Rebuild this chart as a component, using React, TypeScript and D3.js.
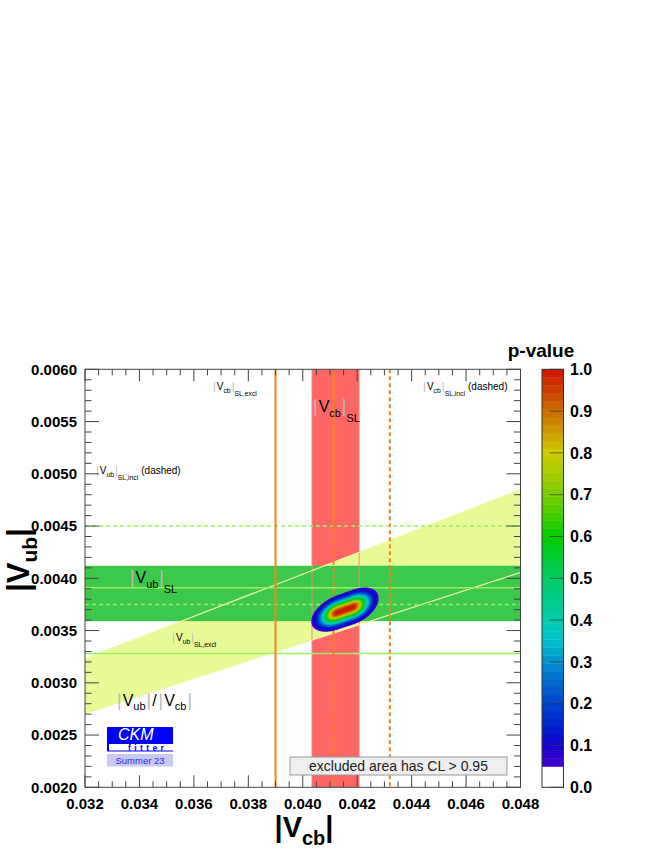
import * as d3 from 'd3';
import { useMemo } from 'react';

// axis ticks
const xTicks = [0.032, 0.034, 0.036, 0.038, 0.040, 0.042, 0.044, 0.046, 0.048];
const yTicks = [0.0020, 0.0025, 0.0030, 0.0035, 0.0040, 0.0045, 0.0050, 0.0055, 0.0060];
const pTicks = [0, 0.1, 0.2, 0.3, 0.4, 0.5, 0.6, 0.7, 0.8, 0.9, 1.0];

// constraint bands
const vcbSL = [0.04034, 0.04207];
const vubSL = [0.00359, 0.00412];
const ratioBand = [0.0845, 0.1010]; // |Vub|/|Vcb|

// single measurements (excl solid, incl dashed)
const vcbLines = [
  { v: 0.0390, from: 0.0020, to: 0.0060, dashed: false },
  { v: 0.04113, from: 0.0045, to: 0.0060, dashed: false },
  { v: 0.04113, from: 0.0020, to: 0.0045, dashed: true },
  { v: 0.0432, from: 0.0020, to: 0.0060, dashed: true },
];
const vubLines = [
  { v: 0.00328, dashed: false },
  { v: 0.00391, dashed: false },
  { v: 0.00375, dashed: true },
  { v: 0.00450, dashed: true },
];

// global fit (Rfit: centre, flat theory half-range, gaussian sigma)
const fitVcb = [0.04155, 0.00028, 0.00039];
const fitRatio = [0.0890, 0.00008, 0.0016];

// p-value palette
const pStops = [0.05, 0.1, 0.15, 0.2, 0.25, 0.3, 0.35, 0.4, 0.45, 0.5, 0.55, 0.6, 0.65, 0.7, 0.75, 0.8, 0.85, 0.9, 0.95, 1.0];
const pColors = ['#4400cc', '#1400cc', '#0022cc', '#0044cc', '#0068cc', '#0090cc', '#00c0cc', '#00ccb0', '#00cc88', '#00cc66',
  '#00cc33', '#00cc00', '#44cc00', '#77cc00', '#a4cc00', '#cccc00', '#cc9c00', '#cc6e00', '#cc4000', '#cc1500'];

const font = 'Liberation Sans, Arial, Helvetica, sans-serif';
const orange = '#f5821f';
const lightGreen = '#98f060';

function Label({ x, y, size, sub, sub2, suffix }: any) {
  const s = size * 0.68;
  return (
    <text x={x} y={y} fontFamily={font} fontSize={size} fill="#000">
      <tspan fill="#bbb" fontSize={size * 1.1}>|</tspan>
      <tspan dx={1}>V</tspan>
      <tspan fontSize={s} dy={size * 0.3}>{sub}</tspan>
      <tspan fill="#bbb" fontSize={size * 1.1} dy={-size * 0.3} dx={1}>|</tspan>
      {sub2 && <tspan fontSize={s} dy={size * 0.6}>{sub2}</tspan>}
      {suffix && <tspan dy={sub2 ? -size * 0.6 : 0} dx={3}>{suffix}</tspan>}
    </text>
  );
}

export default function App() {
  const x = d3.scaleLinear().domain([0.032, 0.048]).range([85, 520.5]);
  const y = d3.scaleLinear().domain([0.002, 0.006]).range([787.3, 369.3]);
  const pScale = d3.scaleLinear().domain([0, 1]).range([787.3, 369.3]);
  const palette = d3.scaleLinear<string>().domain(pStops).range(pColors).interpolate(d3.interpolateRgb).clamp(true);
  const levels = d3.range(50).map(k => 0.05 + k * 0.019);

  const blob = useMemo(() => {
    const nx = 280, ny = 220;
    const gx = [0.0398, 0.0438], gy = [0.0032, 0.0042];
    const values: number[] = [];
    for (let j = 0; j < ny; j++) {
      for (let i = 0; i < nx; i++) {
        const xv = gx[0] + (i + 0.5) * (gx[1] - gx[0]) / nx;
        const yv = gy[1] - (j + 0.5) * (gy[1] - gy[0]) / ny;
        const r = yv / xv;
        const a = Math.max(0, Math.abs(xv - fitVcb[0]) - fitVcb[1]) / fitVcb[2];
        const b = Math.max(0, Math.abs(r - fitRatio[0]) - fitRatio[1]) / fitRatio[2];
        values.push(Math.exp(-(a * a + b * b) / 2));
      }
    }
    const contours = d3.contours().size([nx, ny]).thresholds(levels)(values);
    const proj = d3.geoTransform({
      point(px: number, py: number) {
        (this as any).stream.point(x(gx[0] + px * (gx[1] - gx[0]) / nx), y(gy[1] - py * (gy[1] - gy[0]) / ny));
      },
    });
    const path = d3.geoPath(proj);
    return contours.map((c, k) => ({ d: path(c as any) || '', fill: palette(levels[k] + 0.0095) }));
  }, []);

  const [x0, x1] = x.domain();
  const wedge = [
    [x0, ratioBand[0] * x0], [x1, ratioBand[0] * x1], [x1, ratioBand[1] * x1], [x0, ratioBand[1] * x0],
  ].map(([a, b]) => `${x(a)},${y(b)}`).join(' ');

  const xMinor = d3.range(0, 33).map(k => 0.032 + k * 0.0005);
  const yMinor = d3.range(0, 41).map(k => 0.002 + k * 0.0001);
  const L = x.range()[0], R = x.range()[1], T = y.range()[1], B = y.range()[0];

  const barX = 542, barW = 21.5;

  return (
    <svg width={649} height={849} style={{ position: 'absolute', left: 0, top: 0, background: '#fff' }}>
      <defs>
        <clipPath id="plot"><rect x={L} y={T} width={R - L} height={B - T} /></clipPath>
      </defs>
      <g clipPath="url(#plot)">
        <rect x={x(vcbSL[0])} y={T} width={x(vcbSL[1]) - x(vcbSL[0])} height={B - T} fill="#ff6666" />
        <polygon points={wedge} fill="#e8fa96" />
        <rect x={L} y={y(vubSL[1])} width={R - L} height={y(vubSL[0]) - y(vubSL[1])} fill="#3cc84a" />
        {vcbSL.map((v, i) => (
          <line key={'vb' + i} x1={x(v)} x2={x(v)} y1={T} y2={B} stroke="#f08a80" strokeWidth={1} />
        ))}
        {ratioBand.map((r, i) => (
          <line key={'rb' + i} x1={x(x0)} y1={y(r * x0)} x2={x(x1)} y2={y(r * x1)} stroke="#f0f8a8" strokeWidth={1.2} />
        ))}
        {vubLines.map((l, i) => (
          <line key={'vu' + i} x1={L} x2={R} y1={y(l.v)} y2={y(l.v)} stroke={lightGreen} strokeWidth={1.6}
            strokeDasharray={l.dashed ? '4,3' : undefined} />
        ))}
        {vcbLines.map((l, i) => (
          <line key={'vc' + i} x1={x(l.v)} x2={x(l.v)} y1={y(l.to)} y2={y(l.from)} stroke={orange} strokeWidth={2}
            strokeDasharray={l.dashed ? '4,3' : undefined} />
        ))}
        {blob.map((c, i) => <path key={'c' + i} d={c.d} fill={c.fill} />)}
      </g>

      {/* labels */}
      <Label x={x(0.0367)} y={y(0.00580)} size={10} sub="cb" sub2="SL,excl" />
      <Label x={x(0.04038)} y={y(0.00559)} size={16} sub="cb" sub2="SL" />
      <Label x={x(0.04442)} y={y(0.00580)} size={10} sub="cb" sub2="SL,incl" suffix="(dashed)" />
      <Label x={x(0.0324)} y={y(0.00500)} size={10} sub="ub" sub2="SL,incl" suffix="(dashed)" />
      <Label x={x(0.03365)} y={y(0.003955)} size={16} sub="ub" sub2="SL" />
      <Label x={x(0.0352)} y={y(0.0034)} size={10} sub="ub" sub2="SL,excl" />
      <text x={x(0.03318)} y={y(0.002778)} fontFamily={font} fontSize={16}>
        <tspan fill="#bbb" fontSize={17.5}>|</tspan>
        <tspan dx={1}>V</tspan>
        <tspan fontSize={11} dy={4.5}>ub</tspan>
        <tspan fill="#bbb" fontSize={17.5} dy={-4.5} dx={1}>|</tspan>
        <tspan dx={1}>/</tspan>
        <tspan fill="#bbb" fontSize={17.5} dx={2}>|</tspan>
        <tspan dx={1}>V</tspan>
        <tspan fontSize={11} dy={4.5}>cb</tspan>
        <tspan fill="#bbb" fontSize={17.5} dy={-4.5} dx={1}>|</tspan>
      </text>

      {/* CKMfitter logo */}
      <rect x={107} y={727} width={66} height={24.5} fill="#0000ff" />
      <rect x={109} y={744} width={64} height={6.5} fill="#fff" />
      <text x={118} y={739.8} fontFamily={font} fontStyle="italic" fontSize={16} fill="#fff">CKM</text>
      <text x={128} y={751.3} fontFamily={font} fontWeight="bold" fontSize={8.5} fill="#0000ff" letterSpacing={3.4}>fitter</text>
      <rect x={107} y={754} width={66} height={12.5} fill="#c8c8f5" />
      <text x={140} y={764} fontFamily={font} fontSize={9.5} fill="#2a2ae6" textAnchor="middle">Summer 23</text>

      {/* legend */}
      <rect x={290} y={757} width={217} height={18} fill="#eeeeee" stroke="#999" strokeWidth={1} />
      <text x={398.5} y={771} fontFamily={font} fontSize={14} fill="#222" textAnchor="middle">excluded area has CL &gt; 0.95</text>

      {/* frame and ticks */}
      <rect x={L} y={T} width={R - L} height={B - T} fill="none" stroke="#444" strokeWidth={1} />
      {xMinor.map((v, i) => {
        const major = i % 4 === 0;
        const len = major ? 12 : 6;
        return (
          <g key={'xt' + i} stroke="#444">
            <line x1={x(v)} x2={x(v)} y1={B} y2={B - len} />
            <line x1={x(v)} x2={x(v)} y1={T} y2={T + len} />
          </g>
        );
      })}
      {yMinor.map((v, i) => {
        const major = i % 5 === 0;
        const len = major ? 14 : 6.5;
        return (
          <g key={'yt' + i} stroke="#444">
            <line x1={L} x2={L + len} y1={y(v)} y2={y(v)} />
            <line x1={R} x2={R - len} y1={y(v)} y2={y(v)} />
          </g>
        );
      })}
      {xTicks.map(v => (
        <text key={'xl' + v} x={x(v)} y={809} fontFamily={font} fontWeight="bold" fontSize={15} textAnchor="middle">
          {v.toFixed(3)}
        </text>
      ))}
      {yTicks.map(v => (
        <text key={'yl' + v} x={77} y={y(v)} dy="0.36em" fontFamily={font} fontWeight="bold" fontSize={15} textAnchor="end">
          {v.toFixed(4)}
        </text>
      ))}

      {/* axis titles */}
      <text x={304} y={837} fontFamily={font} fontWeight="bold" fontSize={29} textAnchor="middle">
        |V<tspan fontSize={20} dy={8}>cb</tspan><tspan dy={-8}>|</tspan>
      </text>
      <text transform="translate(29,560) rotate(-90)" fontFamily={font} fontWeight="bold" fontSize={31} textAnchor="middle">
        |V<tspan fontSize={21} dy={8}>ub</tspan><tspan dy={-8}>|</tspan>
      </text>

      {/* colour bar */}
      <rect x={barX} y={pScale(0.05)} width={barW} height={pScale(0) - pScale(0.05)} fill="#fff" />
      {levels.map((lv, k) => (
        <rect key={'cb' + k} x={barX} y={pScale(lv + 0.019)} width={barW} height={pScale(lv) - pScale(lv + 0.019) + 0.4}
          fill={palette(lv + 0.0095)} />
      ))}
      <rect x={barX} y={pScale(1)} width={barW} height={pScale(0) - pScale(1)} fill="none" stroke="#333" />
      {pTicks.map(v => (
        <g key={'pt' + v}>
          <line x1={barX + barW} x2={barX + barW - 14} y1={pScale(v)} y2={pScale(v)} stroke="#333" strokeOpacity={0.7} />
          <text x={570} y={pScale(v)} dy="0.36em" fontFamily={font} fontWeight="bold" fontSize={16}>{v.toFixed(1)}</text>
        </g>
      ))}
      <text x={541} y={357} fontFamily={font} fontWeight="bold" fontSize={19} textAnchor="middle">p-value</text>
    </svg>
  );
}
